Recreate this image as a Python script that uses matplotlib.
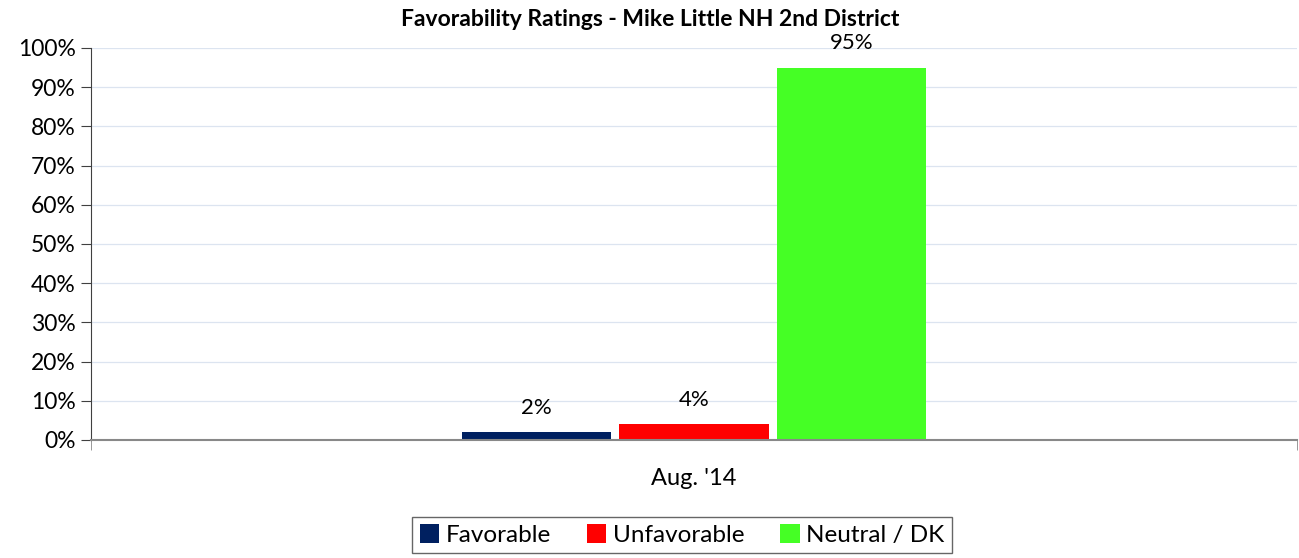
import matplotlib
matplotlib.use("Agg")
import matplotlib.pyplot as plt
from matplotlib.ticker import FuncFormatter

categories = ["Aug. '14"]
series_names = ["Favorable", "Unfavorable", "Neutral / DK"]
series_values = [[2], [4], [95]]
series_labels = ["2%", "4%", "95%"]
colors = ["#002060", "#FF0000", "#45FF25"]
yticks = [0, 10, 20, 30, 40, 50, 60, 70, 80, 90, 100]

plt.rcParams['font.family'] = ['Lato', 'DejaVu Sans']

fig = plt.figure(figsize=(12.99, 5.58), dpi=100)
ax = fig.add_axes([91/1299, 1 - 440/558, 1206/1299, 392/558])

width = 0.124
offsets = [-0.1306, 0.0, 0.1306]
for i, (name, vals) in enumerate(zip(series_names, series_values)):
    xs = [j + offsets[i] for j in range(len(categories))]
    bars = ax.bar(xs, vals, width=width, color=colors[i], label=name, zorder=3)
    for b, lab in zip(bars, [series_labels[i]]):
        ax.text(b.get_x() + b.get_width()/2, b.get_height() + 3.6, lab,
                ha='center', va='bottom', fontsize=16, color='black')

ax.set_xlim(-0.5, len(categories) - 0.5)
ax.set_ylim(0, 100)
ax.set_yticks(yticks)
ax.yaxis.set_major_formatter(FuncFormatter(lambda v, p: f"{int(v)}%"))
ax.set_xticks(range(len(categories)))
ax.set_xticklabels(categories)
ax.set_xticks([-0.5, 0.5], minor=True)
ax.tick_params(axis='x', which='major', length=0, labelsize=17, pad=20)
ax.tick_params(axis='x', which='minor', length=7, color='#888888', direction='out')
ax.tick_params(axis='y', length=7, labelsize=16.5, direction='out', pad=4, color='#404040')
ax.grid(axis='y', color='#DCE4F0', linewidth=0.9, zorder=0)
for s in ['top', 'right']:
    ax.spines[s].set_visible(False)
ax.spines['left'].set_color('#404040')
ax.spines['bottom'].set_color('#888888')
ax.spines['bottom'].set_linewidth(1.5)
ax.spines['bottom'].set_zorder(4)

fig.text(650/1299, 1 - 19/558, "Favorability Ratings - Mike Little NH 2nd District",
         ha='center', va='center', fontsize=16.5, fontweight='bold')

leg = fig.legend(loc='center', bbox_to_anchor=(682/1299, 1 - 535/558), ncol=3,
                 frameon=True, fancybox=False, edgecolor='#404040', fontsize=17.5,
                 handlelength=0.8, handleheight=0.8, handletextpad=0.25, columnspacing=1.5,
                 borderpad=0.3)
leg.get_frame().set_linewidth(1.0)

fig.savefig("out.png", dpi=100)
